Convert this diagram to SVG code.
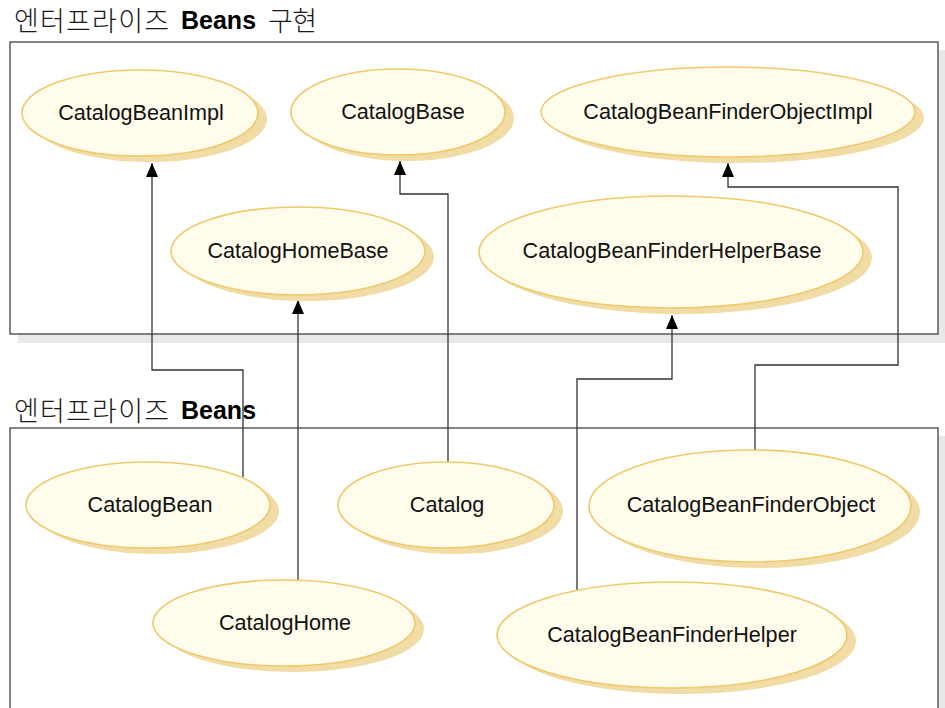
<svg xmlns="http://www.w3.org/2000/svg" width="945" height="708" viewBox="0 0 945 708">
  <defs>
    <style>
      .frame { fill: #ffffff; stroke: #333333; stroke-width: 1.2; }
      .fshadow { fill: #e8e8e8; }
      .title { font-family: "Noto Sans CJK KR", "Liberation Sans", sans-serif; font-size: 27px; font-weight: 300; fill: #1a1a1a; }
      .title-b { font-family: "Liberation Sans", Arial, sans-serif; font-size: 25px; font-weight: bold; fill: #000; }
      .shadow { fill: #f1dca6; stroke: none; }
      .body { fill: #fffcec; stroke: #efc96c; stroke-width: 1.6; }
      .label { font-family: "Liberation Sans", Arial, sans-serif; font-size: 21.6px; fill: #111111; text-anchor: middle; }
      .conn { fill: none; stroke: #333333; stroke-width: 1.3; }
    </style>
    <marker id="arrow" viewBox="0 0 14 12" refX="14" refY="6" markerWidth="14" markerHeight="12" markerUnits="userSpaceOnUse" orient="auto">
      <path d="M0,0 L14,6 L0,12 Z" fill="#000"/>
    </marker>
  </defs>

  <rect width="945" height="708" fill="#ffffff"/>

  <!-- package frames -->
  <g id="frame-impl">
    <rect class="fshadow" x="18" y="50" width="928" height="293"/>
    <rect class="frame" x="10" y="42" width="928" height="292"/>
    <text class="title" x="14" y="30.5" textLength="155" lengthAdjust="spacing">엔터프라이즈</text>
    <text class="title-b" x="181" y="29">Beans</text>
    <text class="title" x="268" y="30.5" textLength="49" lengthAdjust="spacing">구현</text>
  </g>
  <g id="frame-beans">
    <rect class="fshadow" x="18" y="436" width="928" height="280"/>
    <rect class="frame" x="10" y="428" width="928" height="290"/>
    <text class="title" x="14" y="420.5" textLength="155" lengthAdjust="spacing">엔터프라이즈</text>
    <text class="title-b" x="181" y="419">Beans</text>
  </g>

  <!-- connectors -->
  <g id="connectors">
    <path class="conn" d="M243,477 V370 H152 V163" marker-end="url(#arrow)"/>
    <path class="conn" d="M298,581 V300" marker-end="url(#arrow)"/>
    <path class="conn" d="M448,463 V194 H400 V161" marker-end="url(#arrow)"/>
    <path class="conn" d="M577,590 V379 H672 V315" marker-end="url(#arrow)"/>
    <path class="conn" d="M755,450 V365 H898 V187 H728 V163" marker-end="url(#arrow)"/>
  </g>

  <!-- implementation classes -->
  <g id="CatalogBeanImpl">
    <ellipse class="shadow" cx="149" cy="119" rx="118" ry="43"/>
    <ellipse class="body" cx="140" cy="113" rx="118" ry="43"/>
    <text class="label" x="141" y="120">CatalogBeanImpl</text>
  </g>
  <g id="CatalogBase">
    <ellipse class="shadow" cx="407" cy="118" rx="107" ry="43"/>
    <ellipse class="body" cx="398" cy="112" rx="107" ry="43"/>
    <text class="label" x="403" y="119">CatalogBase</text>
  </g>
  <g id="CatalogBeanFinderObjectImpl">
    <ellipse class="shadow" cx="737" cy="118" rx="187" ry="45"/>
    <ellipse class="body" cx="728" cy="112" rx="187" ry="45"/>
    <text class="label" x="728" y="119">CatalogBeanFinderObjectImpl</text>
  </g>
  <g id="CatalogHomeBase">
    <ellipse class="shadow" cx="307" cy="257" rx="127" ry="44"/>
    <ellipse class="body" cx="298" cy="251" rx="127" ry="44"/>
    <text class="label" x="298" y="258">CatalogHomeBase</text>
  </g>
  <g id="CatalogBeanFinderHelperBase">
    <ellipse class="shadow" cx="680" cy="258" rx="192" ry="56"/>
    <ellipse class="body" cx="671" cy="252" rx="192" ry="56"/>
    <text class="label" x="672" y="258">CatalogBeanFinderHelperBase</text>
  </g>

  <!-- enterprise beans -->
  <g id="CatalogBean">
    <ellipse class="shadow" cx="157" cy="511" rx="122" ry="43"/>
    <ellipse class="body" cx="148" cy="505" rx="122" ry="43"/>
    <text class="label" x="150" y="512">CatalogBean</text>
  </g>
  <g id="Catalog">
    <ellipse class="shadow" cx="455" cy="511" rx="108" ry="43"/>
    <ellipse class="body" cx="446" cy="505" rx="108" ry="43"/>
    <text class="label" x="447" y="512">Catalog</text>
  </g>
  <g id="CatalogBeanFinderObject">
    <ellipse class="shadow" cx="759" cy="512" rx="161" ry="56"/>
    <ellipse class="body" cx="750" cy="506" rx="161" ry="56"/>
    <text class="label" x="751" y="512">CatalogBeanFinderObject</text>
  </g>
  <g id="CatalogHome">
    <ellipse class="shadow" cx="293" cy="629" rx="131" ry="43"/>
    <ellipse class="body" cx="284" cy="623" rx="131" ry="43"/>
    <text class="label" x="285" y="630">CatalogHome</text>
  </g>
  <g id="CatalogBeanFinderHelper">
    <ellipse class="shadow" cx="681" cy="641" rx="175" ry="53"/>
    <ellipse class="body" cx="672" cy="635" rx="175" ry="53"/>
    <text class="label" x="672" y="642">CatalogBeanFinderHelper</text>
  </g>
</svg>
